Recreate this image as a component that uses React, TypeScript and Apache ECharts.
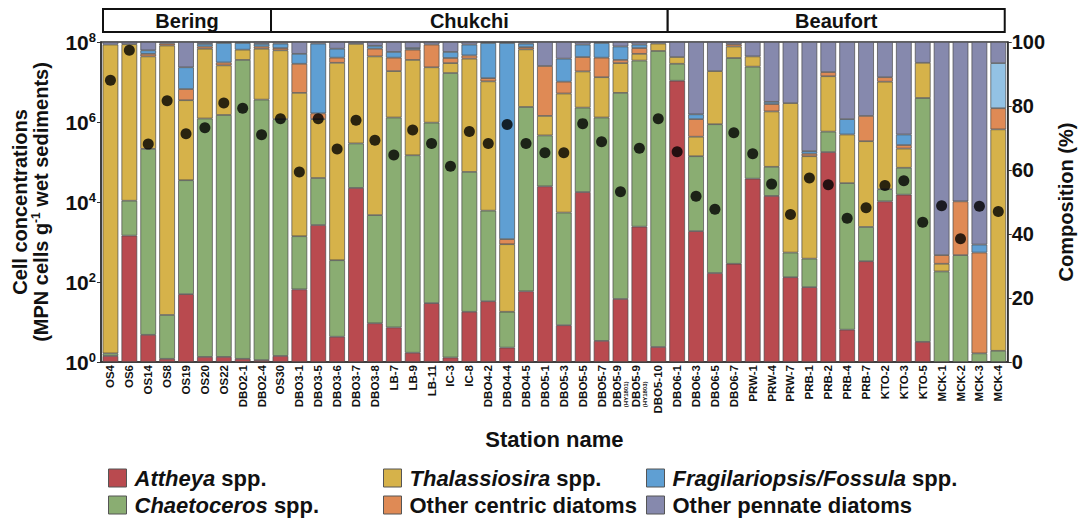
import React, { useEffect, useRef } from "react";
import * as echarts from "echarts";

const stations = [
  "OS4", "OS6", "OS14", "OS8", "OS19", "OS20", "OS22", "DBO2-1", "DBO2-4",
  "OS30", "DBO3-1", "DBO3-5", "DBO3-6", "DBO3-7", "DBO3-8", "LB-7", "LB-9", "LB-11",
  "IC-3", "IC-8", "DBO4-2", "DBO4-4", "DBO4-5", "DBO5-1", "DBO5-3", "DBO5-5", "DBO5-7",
  "DBO5-9 (HY1801)", "DBO5-9 (HY1803)", "DBO5-10",
  "DBO6-1", "DBO6-3", "DBO6-5", "DBO6-7", "PRW-1", "PRW-4", "PRW-7", "PRB-1", "PRB-2",
  "PRB-4", "PRB-7", "KTO-2", "KTO-3", "KTO-5", "MCK-1", "MCK-2", "MCK-3", "MCK-4",
];

// composition (%) per station
const attheya = [
  1.9, 39.5, 8.5, 1.0, 21.2, 1.6, 1.6, 1.0, 0.6,
  1.9, 22.7, 42.8, 7.9, 54.4, 12.1, 10.8, 2.9, 18.4,
  1.4, 15.7, 19.0, 4.5, 22.1, 54.9, 11.5, 53.1, 6.6,
  19.7, 42.3, 4.7,
  87.9, 40.9, 27.8, 30.7, 57.3, 51.9, 26.5, 23.4, 65.6,
  10.1, 31.5, 50.2, 52.3, 6.3, 0, 0, 0, 0,
];
const chaetoceros = [
  0.8, 10.9, 58.1, 13.7, 35.6, 74.5, 75.6, 93.4, 81.4,
  74.0, 16.6, 14.7, 23.9, 13.9, 33.8, 65.6, 61.7, 56.4,
  88.9, 43.7, 28.3, 11.2, 57.6, 15.9, 35.2, 26.4, 69.8,
  64.4, 51.9, 92.5,
  5.3, 23.4, 46.5, 64.3, 35.0, 9.1, 7.7, 8.9, 6.4,
  45.8, 10.7, 3.8, 8.4, 76.2, 28.3, 33.4, 2.7, 3.5,
];
const thalassiosira = [
  96.5, 48.9, 28.9, 84.2, 25.0, 21.8, 15.5, 3.2, 15.9,
  21.5, 44.8, 18.4, 61.7, 31.1, 49.6, 14.5, 29.8, 17.3,
  3.1, 35.4, 40.4, 21.1, 18.0, 6.1, 37.2, 11.3, 12.6,
  9.3, 2.1, 2.3,
  2.1, 6.1, 16.6, 3.6, 3.2, 17.3, 46.7, 32.0, 17.3,
  15.2, 26.8, 33.6, 6.0, 11.0, 2.4, 0, 0, 69.2,
];
const otherCentric = [
  0, 0, 0.8, 0.6, 3.5, 0.7, 0.9, 0, 0.7,
  0.7, 9.1, 1.8, 1.6, 0, 2.4, 4.2, 3.2, 7.1,
  1.6, 1.0, 1.0, 1.6, 0.7, 15.6, 3.7, 4.5, 6.1,
  1.0, 1.8, 0,
  0, 5.5, 0, 0.7, 0, 2.3, 0, 0.8, 1.3,
  0, 7.9, 1.4, 1.1, 0, 2.7, 16.8, 31.5, 6.6,
];
const fragilariopsis = [
  0, 0, 1.1, 0, 6.8, 0.8, 6.1, 2.1, 0.8,
  1.4, 3.1, 21.8, 2.8, 0, 0.9, 1.8, 0.5, 0,
  1.9, 3.4, 11.0, 61.3, 1.1, 0, 7.2, 3.9, 4.6,
  4.2, 1.1, 0,
  0, 1.5, 0, 0, 0, 0.7, 0, 0.8, 0,
  4.8, 0, 0, 3.3, 0, 0, 0, 2.5, 14.1,
];
const otherPennate = [
  0.8, 0.7, 2.6, 0.5, 7.9, 0.6, 0.3, 0.3, 0.6,
  0.5, 3.7, 0.5, 2.1, 0.6, 1.2, 3.1, 1.9, 0.8,
  3.1, 0.8, 0.3, 0.3, 0.5, 7.5, 5.2, 0.8, 0.3,
  1.4, 0.8, 0.5,
  4.7, 22.6, 9.1, 0.7, 4.5, 18.7, 19.1, 34.1, 9.4,
  24.1, 23.1, 11.0, 28.9, 6.5, 66.6, 49.8, 63.3, 6.6,
];

// total cell concentrations (MPN cells g-1 wet sediments)
const cellConcentration = [
  1.1e7, 6.2e7, 2.8e5, 3.4e6, 5.1e5, 7.2e5, 3.0e6, 2.2e6, 4.8e5,
  1.2e6, 5.6e4, 1.2e6, 2.1e5, 1.1e6, 3.5e5, 1.5e5, 6.3e5, 2.9e5,
  7.8e4, 5.8e5, 2.9e5, 8.7e5, 2.9e5, 1.7e5, 1.7e5, 9.1e5, 3.2e5,
  1.8e4, 2.2e5, 1.2e6,
  1.8e5, 1.4e4, 6.6e3, 5.4e5, 1.6e5, 2.8e4, 4.9e3, 4.0e4, 2.7e4,
  3.9e3, 7.2e3, 2.6e4, 3.4e4, 3.1e3, 8.1e3, 1.2e3, 7.8e3, 5.8e3,
];

const regionNames = ["Bering", "Chukchi", "Beaufort"];
const regionFirst = ["OS4", "OS30", "DBO6-1"];
const regionLast = ["DBO2-4", "DBO5-10", "MCK-4"];

const taxa = [
  "Attheya spp.",
  "Chaetoceros spp.",
  "Thalassiosira spp.",
  "Other centric diatoms",
  "Fragilariopsis/Fossula spp.",
  "Other pennate diatoms",
];
const taxaValues = [attheya, chaetoceros, thalassiosira, otherCentric, fragilariopsis, otherPennate];
const taxaColors = ["#b94a4f", "#8aad72", "#d6b24a", "#df8a55", "#5f9fd3", "#8689ad"];
const italicPart: Record<string, string> = {
  "Attheya spp.": "Attheya",
  "Chaetoceros spp.": "Chaetoceros",
  "Thalassiosira spp.": "Thalassiosira",
  "Fragilariopsis/Fossula spp.": "Fragilariopsis/Fossula",
};
// MCK-4 Fragilariopsis segment is drawn lighter in the original
const lightFragStation = "MCK-4";
const lightFragColor = "#93c2e4";

const FONT = "'Liberation Sans', Arial, Helvetica, sans-serif";

export default function App() {
  const ref = useRef<HTMLDivElement>(null);

  useEffect(() => {
    if (!ref.current) return;
    const chart = echarts.init(ref.current, null, { renderer: "svg" });

    const barSeries = taxa.map((name, k) => ({
      name,
      type: "bar",
      stack: "comp",
      yAxisIndex: 1,
      barCategoryGap: "17%",
      itemStyle: { color: taxaColors[k], borderColor: "#4a4a4a", borderWidth: 0.7 },
      data: taxaValues[k].map((v, i) => {
        if (!v) return null;
        if (k === 4 && stations[i] === lightFragStation) {
          return { value: v, itemStyle: { color: lightFragColor } };
        }
        return v;
      }),
    }));

    const legendFormatter = (name: string) => {
      const it = italicPart[name];
      if (it) return "{i|" + it + "}{n|" + name.slice(it.length) + "}";
      return "{n|" + name + "}";
    };
    const legendBase = (data: string[], left: number) => ({
      data,
      left,
      top: 467,
      height: 50,
      orient: "vertical",
      icon: "rect",
      itemWidth: 18,
      itemHeight: 18,
      itemGap: 5,
      padding: 0,
      selectedMode: false,
      itemStyle: { borderColor: "#555", borderWidth: 1 },
      formatter: legendFormatter,
      textStyle: {
        fontFamily: FONT,
        fontSize: 22,
        fontWeight: "bold",
        color: "#111",
        lineHeight: 20,
        padding: [0, 0, 0, 3],
        rich: {
          i: { fontFamily: FONT, fontSize: 22, fontWeight: "bold", fontStyle: "italic", color: "#111", lineHeight: 20 },
          n: { fontFamily: FONT, fontSize: 22, fontWeight: "bold", color: "#111", lineHeight: 20 },
        },
      },
    });

    const option: any = {
      animation: false,
      backgroundColor: "#fff",
      textStyle: { fontFamily: FONT },
      grid: { left: 101, right: 74, top: 42, bottom: 156, show: true, borderColor: "#333", borderWidth: 1.5, backgroundColor: "transparent" },
      legend: [
        legendBase([taxa[0], taxa[1]], 108),
        legendBase([taxa[2], taxa[3]], 383),
        legendBase([taxa[4], taxa[5]], 646),
      ],
      xAxis: {
        type: "category",
        data: stations,
        name: "Station name",
        nameLocation: "middle",
        nameGap: 66,
        nameTextStyle: { fontFamily: FONT, fontSize: 22, fontWeight: "bold", color: "#111" },
        axisLine: { lineStyle: { color: "#333", width: 1.5 } },
        axisTick: { alignWithLabel: true, length: 4, lineStyle: { color: "#333" } },
        axisLabel: {
          interval: 0,
          rotate: 90,
          margin: 3,
          fontFamily: FONT,
          fontSize: 11.5,
          fontWeight: "bold",
          color: "#111",
          formatter: (v: string) => {
            const p = v.indexOf(" (");
            if (p < 0) return v;
            return "{a|" + v.slice(0, p) + "}\n{b|" + v.slice(p + 1) + "}";
          },
          rich: {
            a: { fontFamily: FONT, fontSize: 11.5, fontWeight: "bold", color: "#111", lineHeight: 11 },
            b: { fontFamily: FONT, fontSize: 6, color: "#111", lineHeight: 7, width: 42, align: "left" },
          },
        },
      },
      yAxis: [
        {
          type: "log",
          logBase: 10,
          min: 1,
          max: 1e8,
          interval: 2,
          position: "left",
          name: "{n|Cell concentrations}\n{n|(MPN cells g}{s|-1}{n| wet sediments)}",
          nameLocation: "middle",
          nameRotate: 90,
          nameGap: 50,
          nameTextStyle: {
            rich: {
              n: { fontFamily: FONT, fontSize: 20, fontWeight: "bold", color: "#111", lineHeight: 21 },
              s: { fontFamily: FONT, fontSize: 12, fontWeight: "bold", color: "#111", lineHeight: 12, verticalAlign: "top" },
            },
          },
          axisLine: { show: true, lineStyle: { color: "#333", width: 1.5 } },
          axisTick: { show: true, length: 4, lineStyle: { color: "#333" } },
          minorTick: { show: false },
          splitLine: { show: false },
          axisLabel: {
            margin: 5,
            formatter: (v: number) => "{b|10}{s|" + Math.round(Math.log10(v)) + "}",
            rich: {
              b: { fontFamily: FONT, fontSize: 21, fontWeight: "bold", color: "#111", lineHeight: 22 },
              s: { fontFamily: FONT, fontSize: 13, fontWeight: "bold", color: "#111", lineHeight: 13, verticalAlign: "top" },
            },
          },
        },
        {
          type: "value",
          min: 0,
          max: 100,
          interval: 20,
          position: "right",
          name: "Composition (%)",
          nameLocation: "middle",
          nameRotate: 90,
          nameGap: 47,
          nameTextStyle: { fontFamily: FONT, fontSize: 20, fontWeight: "bold", color: "#111" },
          axisLine: { show: true, lineStyle: { color: "#333", width: 1.5 } },
          axisTick: { show: true, length: 4, lineStyle: { color: "#333" } },
          splitLine: { show: false },
          axisLabel: { margin: 4, fontFamily: FONT, fontSize: 20, fontWeight: "bold", color: "#111" },
        },
      ],
      series: [
        ...barSeries,
        {
          name: "Cell concentration",
          type: "scatter",
          yAxisIndex: 0,
          symbol: "circle",
          symbolSize: 11,
          itemStyle: { color: "#000" },
          z: 5,
          data: cellConcentration,
        },
      ],
    };

    chart.setOption(option);

    const c0 = chart.convertToPixel({ xAxisIndex: 0 }, 0) as number;
    const c1 = chart.convertToPixel({ xAxisIndex: 0 }, 1) as number;
    const bw = c1 - c0;
    const graphics: any[] = [];
    regionNames.forEach((rn, r) => {
      const a = chart.convertToPixel({ xAxisIndex: 0 }, stations.indexOf(regionFirst[r])) as number;
      const b = chart.convertToPixel({ xAxisIndex: 0 }, stations.indexOf(regionLast[r])) as number;
      const x0 = a - bw / 2 + (r === 0 ? 2 : 0);
      const x1 = b + bw / 2 - (r === regionNames.length - 1 ? 3 : 0);
      graphics.push({
        type: "rect",
        shape: { x: x0, y: 9, width: x1 - x0, height: 23 },
        style: { fill: "#fff", stroke: "#111", lineWidth: 2 },
        z: 10,
      });
      graphics.push({
        type: "text",
        z: 11,
        style: {
          text: rn,
          x: (x0 + x1) / 2,
          y: 20.5,
          align: "center",
          verticalAlign: "middle",
          textAlign: "center",
          textVerticalAlign: "middle",
          fontFamily: FONT,
          fontSize: 20,
          fontWeight: "bold",
          fill: "#111",
        },
      });
    });
    chart.setOption({ graphic: graphics });

    return () => chart.dispose();
  }, []);

  return <div ref={ref} style={{ position: "fixed", left: 0, top: 0, width: 1084, height: 518 }} />;
}
